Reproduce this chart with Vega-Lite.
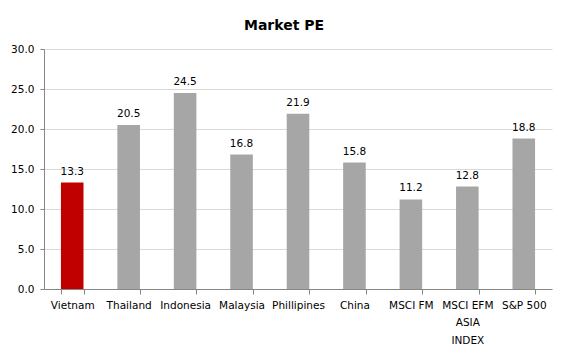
{
  "$schema": "https://vega.github.io/schema/vega-lite/v6.json",
  "autosize": {"type": "none"},
  "padding": {"left": 44, "top": 49, "right": 15, "bottom": 66},
  "width": 508,
  "height": 240,
  "background": "white",
  "title": {
    "text": "Market PE",
    "font": "DejaVu Sans",
    "fontSize": 14,
    "fontWeight": "bold",
    "color": "#000000",
    "anchor": "middle",
    "dx": -14,
    "offset": 11
  },
  "data": {
    "values": [
      {"market": "Vietnam", "pe": 13.3, "highlight": "yes"},
      {"market": "Thailand", "pe": 20.5, "highlight": "no"},
      {"market": "Indonesia", "pe": 24.5, "highlight": "no"},
      {"market": "Malaysia", "pe": 16.8, "highlight": "no"},
      {"market": "Phillipines", "pe": 21.9, "highlight": "no"},
      {"market": "China", "pe": 15.8, "highlight": "no"},
      {"market": "MSCI FM", "pe": 11.2, "highlight": "no"},
      {"market": "MSCI EFM ASIA INDEX", "pe": 12.8, "highlight": "no"},
      {"market": "S&P 500", "pe": 18.8, "highlight": "no"}
    ]
  },
  "encoding": {
    "x": {
      "field": "market",
      "type": "nominal",
      "sort": null,
      "scale": {"paddingInner": 0.6, "paddingOuter": 0.3},
      "axis": {
        "title": null,
        "labelAngle": 0,
        "labelFont": "DejaVu Sans",
        "labelFontSize": 10.5,
        "labelColor": "#000000",
        "labelPadding": 6,
        "labelLineHeight": 17.5,
        "labelExpr": "datum.value == 'MSCI EFM ASIA INDEX' ? ['MSCI EFM', 'ASIA', 'INDEX'] : datum.value",
        "tickBand": "extent",
        "tickSize": 5,
        "tickColor": "#868686",
        "domainColor": "#868686",
        "grid": false
      }
    },
    "y": {
      "field": "pe",
      "type": "quantitative",
      "scale": {"domain": [0, 30]},
      "axis": {
        "title": null,
        "values": [0, 5, 10, 15, 20, 25, 30],
        "format": ".1f",
        "labelFont": "DejaVu Sans",
        "labelFontSize": 10.5,
        "labelColor": "#000000",
        "labelPadding": 6,
        "tickSize": 4,
        "tickColor": "#868686",
        "domainColor": "#868686",
        "gridColor": "#d9d9d9",
        "gridWidth": 1
      }
    }
  },
  "layer": [
    {
      "mark": {"type": "bar"},
      "encoding": {
        "color": {
          "field": "highlight",
          "type": "nominal",
          "scale": {"domain": ["yes", "no"], "range": ["#C00000", "#A6A6A6"]},
          "legend": null
        }
      }
    },
    {
      "mark": {
        "type": "text",
        "baseline": "bottom",
        "dy": -6,
        "font": "DejaVu Sans",
        "fontSize": 10.5,
        "color": "#000000"
      },
      "encoding": {
        "text": {"field": "pe", "type": "quantitative", "format": ".1f"}
      }
    }
  ],
  "config": {
    "view": {"stroke": null}
  }
}
